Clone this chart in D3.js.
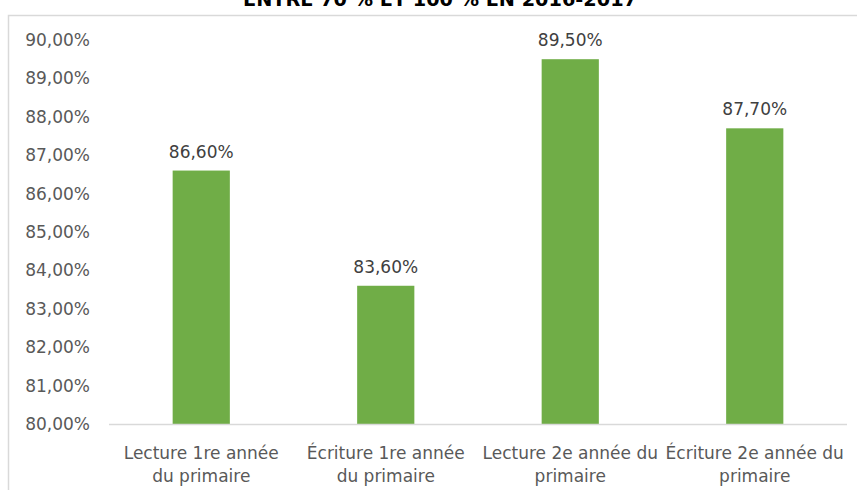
<!DOCTYPE html>
<html>
<head>
<meta charset="utf-8">
<script src="https://cdn.jsdelivr.net/npm/d3@7"></script>
<style>
  body { margin: 0; background: #fff; }
  svg { display: block; }
  text { font-family: "DejaVu Sans", sans-serif; }
</style>
</head>
<body>
<svg id="chart"></svg>
<script>
// data
var categories = [
  ['Lecture 1re année', 'du primaire'],
  ['Écriture 1re année', 'du primaire'],
  ['Lecture 2e année du', 'primaire'],
  ['Écriture 2e année du', 'primaire']
];
var values = [86.6, 83.6, 89.5, 87.7];
var yTicks = [80, 81, 82, 83, 84, 85, 86, 87, 88, 89, 90];
var title = 'ENTRE 70 % ET 100 % EN 2016-2017';

var W = 857, H = 490;
var svg = d3.select('#chart').attr('width', W).attr('height', H);

var fmt = function(v) { return d3.format('.2f')(v).replace('.', ',') + '%'; };

// chart frame (runs off the right and bottom of the shot)
svg.append('rect')
  .attr('x', 8.5).attr('y', 15.5)
  .attr('width', 1000).attr('height', 1000)
  .attr('fill', 'none')
  .attr('stroke', '#d9d9d9')
  .attr('stroke-width', 1.5);

// title, cut off at the top
svg.append('text')
  .attr('x', 440).attr('y', 6)
  .attr('text-anchor', 'middle')
  .attr('font-weight', 'bold')
  .attr('font-size', 20)
  .attr('fill', '#000')
  .attr('textLength', 394)
  .attr('lengthAdjust', 'spacingAndGlyphs')
  .text(title);

var x = d3.scaleBand()
  .domain(d3.range(values.length))
  .range([109, 847])
  .padding(0);

var y = d3.scaleLinear()
  .domain([80, 90])
  .range([424, 40]);

var barW = x.bandwidth() * 0.31;

// y axis labels
svg.append('g').selectAll('text')
  .data(yTicks)
  .enter()
  .append('text')
  .attr('x', 90)
  .attr('y', function(d) { return y(d); })
  .attr('dy', '0.35em')
  .attr('text-anchor', 'end')
  .attr('font-size', 17)
  .attr('fill', '#595959')
  .text(fmt);

// bars
svg.append('g').selectAll('rect')
  .data(values)
  .enter()
  .append('rect')
  .attr('x', function(d, i) { return x(i) + (x.bandwidth() - barW) / 2; })
  .attr('y', function(d) { return y(d); })
  .attr('width', barW)
  .attr('height', function(d) { return y(80) - y(d); })
  .attr('fill', '#70ad47');

// baseline
svg.append('line')
  .attr('x1', 109).attr('x2', 847)
  .attr('y1', y(80) + 0.5).attr('y2', y(80) + 0.5)
  .attr('stroke', '#d9d9d9')
  .attr('stroke-width', 1.5);

// value labels
svg.append('g').selectAll('text')
  .data(values)
  .enter()
  .append('text')
  .attr('x', function(d, i) { return x(i) + x.bandwidth() / 2; })
  .attr('y', function(d) { return y(d) - 13; })
  .attr('text-anchor', 'middle')
  .attr('font-size', 17)
  .attr('fill', '#404040')
  .text(function(d) { return fmt(d); });

// category labels, two lines each
var cg = svg.append('g').selectAll('text')
  .data(categories)
  .enter()
  .append('text')
  .attr('text-anchor', 'middle')
  .attr('font-size', 17)
  .attr('fill', '#595959');

cg.selectAll('tspan')
  .data(function(d, i) { return d.map(function(s) { return { s: s, i: i }; }); })
  .enter()
  .append('tspan')
  .attr('x', function(d) { return x(d.i) + x.bandwidth() / 2; })
  .attr('y', function(d, j) { return 459 + j * 23; })
  .text(function(d) { return d.s; });
</script>
</body>
</html>
